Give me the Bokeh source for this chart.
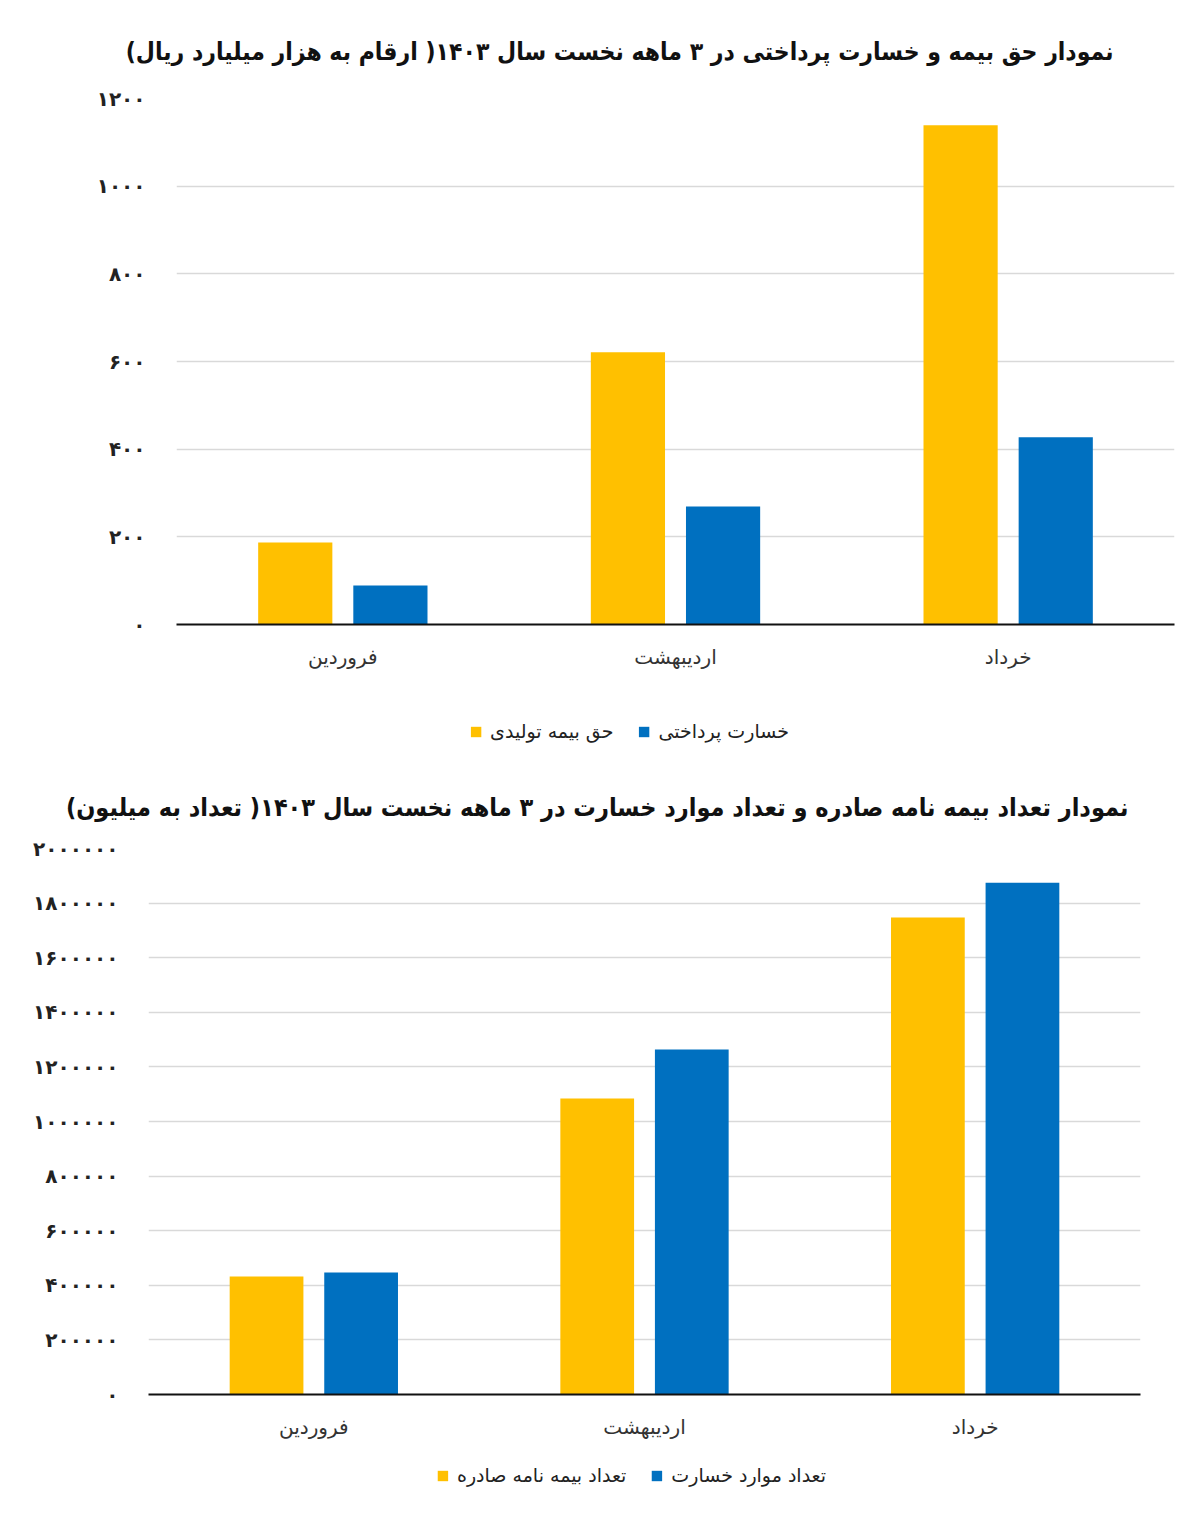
from bokeh.plotting import figure
from bokeh.layouts import column
from bokeh.models import (FactorRange, Range1d, FixedTicker, Legend, LegendItem, Title)
from bokeh.transform import dodge
from bokeh.embed import file_html
from bokeh.resources import INLINE

RLM = "\u200F"

months = ["فروردین", "اردیبهشت", "خرداد"]

title1 = "نمودار حق بیمه و خسارت پرداختی در ۳ ماهه نخست سال ۱۴۰۳( ارقام به هزار میلیارد ریال)"
series1 = ["حق بیمه تولیدی", "خسارت پرداختی"]
premium = [187, 621, 1139]
claims_paid = [89, 269, 427]
y1_ticks = [0, 200, 400, 600, 800, 1000, 1200]
y1_labels = ["۰", "۲۰۰", "۴۰۰", "۶۰۰", "۸۰۰", "۱۰۰۰", "۱۲۰۰"]

title2 = "نمودار تعداد بیمه نامه صادره و تعداد موارد خسارت در ۳ ماهه نخست سال ۱۴۰۳( تعداد به میلیون)"
series2 = ["تعداد بیمه نامه صادره", "تعداد موارد خسارت"]
policies = [432000, 1084000, 1747000]
claims_count = [447000, 1264000, 1875000]
y2_ticks = [0, 200000, 400000, 600000, 800000, 1000000, 1200000, 1400000,
            1600000, 1800000, 2000000]
y2_labels = ["۰", "۲۰۰۰۰۰", "۴۰۰۰۰۰", "۶۰۰۰۰۰", "۸۰۰۰۰۰", "۱۰۰۰۰۰۰",
             "۱۲۰۰۰۰۰", "۱۴۰۰۰۰۰", "۱۶۰۰۰۰۰", "۱۸۰۰۰۰۰", "۲۰۰۰۰۰۰"]

YELLOW = "#FFC000"
BLUE = "#0070C0"
FONT = "DejaVu Sans"
TFONT = "DejaVu Sans Condensed"


def add_bars(p, a_vals, b_vals):
    src = dict(month=months, a=a_vals, b=b_vals)
    ra = p.vbar(x=dodge("month", -0.143, range=p.x_range), top="a", width=0.223,
                source=src, fill_color=YELLOW, line_color=None)
    rb = p.vbar(x=dodge("month", 0.143, range=p.x_range), top="b", width=0.223,
                source=src, fill_color=BLUE, line_color=None)
    return ra, rb


def make_chart(title, a_vals, b_vals, ticks, labels, height,
               top, bottom, left, right, title_offset, title_standoff, title_size,
               ylabel_standoff):
    p = figure(x_range=FactorRange(factors=months), y_range=Range1d(ticks[0], ticks[-1]),
               width=1200, height=height, output_backend="svg",
               toolbar_location=None, min_border_top=top, min_border_bottom=bottom,
               min_border_left=left, min_border_right=right)
    p.frame_align = False
    add_bars(p, a_vals, b_vals)

    t = Title(text=title + RLM, align="right", offset=title_offset,
              text_font=TFONT, text_font_size=title_size, text_font_style="bold",
              text_color="#111111", standoff=title_standoff)
    p.add_layout(t, "above")

    p.outline_line_color = None
    p.background_fill_color = "white"
    p.border_fill_color = "white"

    p.xgrid.grid_line_color = None
    p.ygrid.ticker = FixedTicker(ticks=ticks[1:-1])
    p.ygrid.grid_line_color = "#d9d9d9"
    p.ygrid.grid_line_width = 1.5

    p.yaxis.ticker = FixedTicker(ticks=ticks)
    p.yaxis.major_label_overrides = {t_: l_ for t_, l_ in zip(ticks, labels)}
    p.yaxis.axis_line_color = None
    p.yaxis.major_tick_line_color = None
    p.yaxis.minor_tick_line_color = None
    p.yaxis.major_label_standoff = ylabel_standoff
    p.yaxis.major_label_text_font = FONT
    p.yaxis.major_label_text_font_style = "bold"
    p.yaxis.major_label_text_font_size = "20px"
    p.yaxis.major_label_text_color = "#222222"

    p.xaxis.axis_line_color = "#111111"
    p.xaxis.axis_line_width = 2
    p.xaxis.major_tick_line_color = None
    p.xaxis.minor_tick_line_color = None
    p.xaxis.major_label_standoff = 14
    p.xaxis.major_label_text_font = FONT
    p.xaxis.major_label_text_font_size = "20px"
    p.xaxis.major_label_text_color = "#333333"
    return p


def make_legend(series, a_vals, b_vals, height, left):
    # legend strip: the series renderers are hidden, only their legend entries show
    q = figure(x_range=FactorRange(factors=months), y_range=Range1d(0, max(b_vals + a_vals)),
               width=1200, height=height, output_backend="svg", toolbar_location=None,
               min_border_left=left, min_border_right=0, min_border_top=0,
               min_border_bottom=0)
    q.frame_align = False
    q.axis.visible = False
    q.grid.visible = False
    q.outline_line_color = None
    ra, rb = add_bars(q, a_vals, b_vals)
    ra.visible = False
    rb.visible = False
    legend = Legend(items=[LegendItem(label=series[0], renderers=[ra]),
                           LegendItem(label=series[1], renderers=[rb])],
                    orientation="horizontal", location="center",
                    glyph_width=13, glyph_height=13, label_standoff=8, spacing=24,
                    label_text_font=FONT, label_text_font_size="19px",
                    label_text_color="#222222", border_line_color=None,
                    background_fill_alpha=0, margin=0, padding=4,
                    inactive_fill_alpha=0)
    q.add_layout(legend, "center")
    return q


p1 = make_chart(title1, premium, claims_paid, y1_ticks, y1_labels,
                700, 98, 76, 176, 26, 61, 66, "24.5px", 25)
l1 = make_legend(series1, premium, claims_paid, 62, 58)
p2 = make_chart(title2, policies, claims_count, y2_ticks, y2_labels,
                682, 86, 50, 148, 60, 12, 54, "25px", 24)
l2 = make_legend(series2, policies, claims_count, 62, 62)

layout = column(p1, l1, p2, l2, spacing=0)
open("out.html", "w").write(file_html(layout, INLINE))
